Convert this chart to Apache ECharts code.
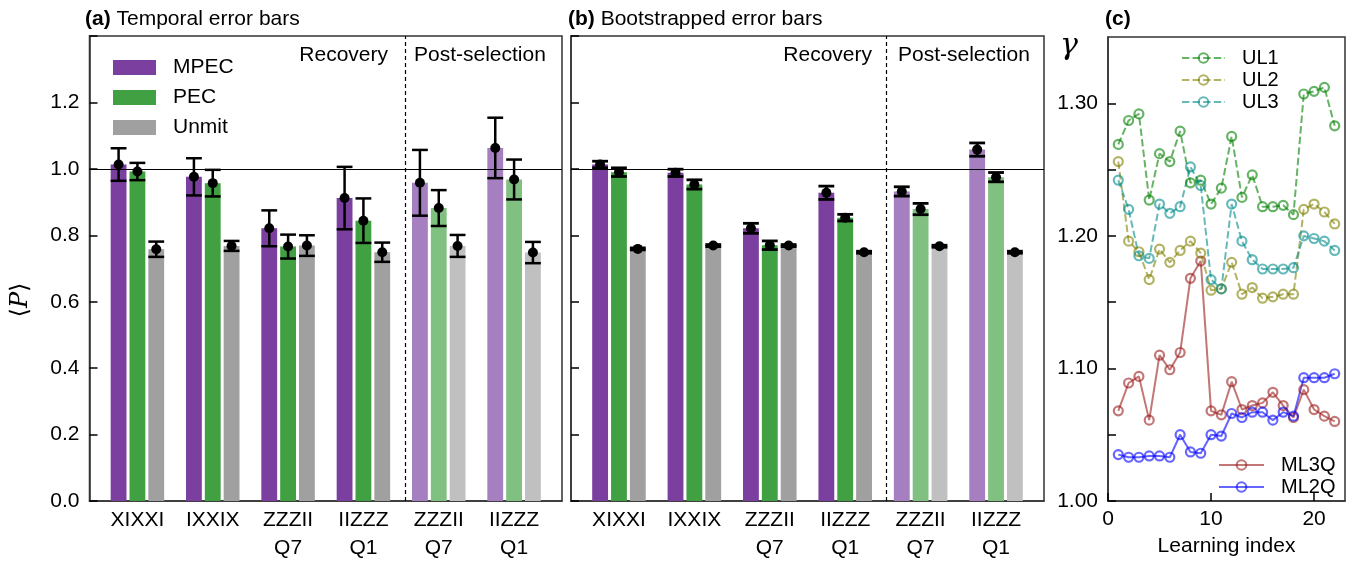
<!DOCTYPE html>
<html>
<head>
<meta charset="utf-8">
<script src="https://cdn.jsdelivr.net/npm/echarts@6/dist/echarts.min.js"></script>
<style>
  html, body { margin: 0; padding: 0; background: #fff; }
  #chart { width: 1357px; height: 562px; }
</style>
</head>
<body>
<div id="chart"></div>
<script>
// ---- data -------------------------------------------------------------
const groups = ['XIXXI', 'IXXIX', 'ZZZII\nQ7', 'IIZZZ\nQ1', 'ZZZII\nQ7', 'IIZZZ\nQ1'];
const phase = [0, 0, 0, 0, 1, 1];          // 0 = recovery, 1 = post-selection
const methods = ['MPEC', 'PEC', 'Unmit'];

// (a) temporal error bars
const tempMPEC     = [1.013, 0.976, 0.821, 0.912, 0.958, 1.063];
const tempMPECErr  = [0.049, 0.056, 0.054, 0.094, 0.099, 0.091];
const tempPEC      = [0.992, 0.957, 0.766, 0.844, 0.882, 0.968];
const tempPECErr   = [0.026, 0.040, 0.036, 0.067, 0.054, 0.060];
const tempUnmit    = [0.758, 0.768, 0.769, 0.749, 0.768, 0.748];
const tempUnmitErr = [0.023, 0.015, 0.031, 0.029, 0.033, 0.032];

// (b) bootstrapped error bars
const bootMPEC     = [1.013, 0.988, 0.821, 0.928, 0.932, 1.058];
const bootMPECErr  = [0.010, 0.011, 0.015, 0.020, 0.014, 0.020];
const bootPEC      = [0.990, 0.953, 0.770, 0.853, 0.879, 0.975];
const bootPECErr   = [0.013, 0.014, 0.013, 0.010, 0.017, 0.014];
const bootUnmit    = [0.759, 0.769, 0.769, 0.749, 0.767, 0.749];
const bootUnmitErr = [0.003, 0.003, 0.003, 0.003, 0.003, 0.003];

// (c) learned gamma per learning index
const learningIndex = [1, 2, 3, 4, 5, 6, 7, 8, 9, 10, 11, 12, 13, 14, 15, 16, 17, 18, 19, 20, 21, 22];
const ul1  = [1.269, 1.287, 1.292, 1.227, 1.262, 1.256, 1.279, 1.240, 1.242, 1.224, 1.236, 1.275, 1.229, 1.246, 1.222, 1.222, 1.223, 1.216, 1.307, 1.309, 1.312, 1.283];
const ul2  = [1.256, 1.196, 1.188, 1.167, 1.190, 1.180, 1.189, 1.196, 1.187, 1.159, 1.160, 1.180, 1.156, 1.161, 1.153, 1.154, 1.156, 1.156, 1.220, 1.224, 1.218, 1.209];
const ul3  = [1.242, 1.220, 1.185, 1.183, 1.224, 1.217, 1.222, 1.252, 1.238, 1.167, 1.160, 1.224, 1.196, 1.182, 1.175, 1.175, 1.175, 1.176, 1.200, 1.198, 1.196, 1.189];
const ml3q = [1.068, 1.089, 1.094, 1.061, 1.110, 1.099, 1.112, 1.168, 1.181, 1.068, 1.065, 1.090, 1.069, 1.072, 1.074, 1.082, 1.072, 1.063, 1.084, 1.069, 1.064, 1.060];
const ml2q = [1.035, 1.033, 1.033, 1.034, 1.034, 1.033, 1.050, 1.037, 1.036, 1.050, 1.049, 1.066, 1.063, 1.067, 1.067, 1.061, 1.067, 1.064, 1.093, 1.093, 1.093, 1.096];

// ---- styling ----------------------------------------------------------
const FONT = '"Liberation Sans", Arial, Helvetica, sans-serif';
const FRAME = '#333';
const BAR_W = 0.21;      // bar width in group units
const BAR_STEP = 0.25;   // distance between bars of one group
const SPLIT_X = 3.55;    // recovery / post-selection divider
const shades = {
  MPEC:  ['#7a3f9f', '#a57fc0'],
  PEC:   ['#41a041', '#80c080'],
  Unmit: ['#a0a0a0', '#c0c0c0']
};

function barSeries(name, k, values, axis) {
  return {
    type: 'custom', name: name, xAxisIndex: axis, yAxisIndex: axis, z: 2,
    itemStyle: { color: shades[name][0] },
    dimensions: ['x', 'y', 'phase'],
    encode: { x: 0, y: 1 },
    data: values.map((v, i) => [i, v, phase[i]]),
    renderItem: function (params, api) {
      const x = api.value(0) + (k - 1) * BAR_STEP;
      const p0 = api.coord([x - BAR_W / 2, api.value(1)]);
      const p1 = api.coord([x + BAR_W / 2, 0]);
      return {
        type: 'rect',
        shape: { x: p0[0], y: p0[1], width: p1[0] - p0[0], height: p1[1] - p0[1] },
        style: { fill: shades[name][api.value(2)] }
      };
    }
  };
}

function errorSeries(k, values, errs, axis, lw) {
  return {
    type: 'custom', xAxisIndex: axis, yAxisIndex: axis, z: 6, silent: true,
    dimensions: ['x', 'y', 'err'],
    encode: { x: 0, y: 1 },
    data: values.map((v, i) => [i, v, errs[i]]),
    renderItem: function (params, api) {
      const x = api.value(0) + (k - 1) * BAR_STEP;
      const v = api.value(1), e = api.value(2);
      const hi = api.coord([x, v + e]);
      const lo = api.coord([x, v - e]);
      const mid = api.coord([x, v]);
      const half = api.size([BAR_W, 0])[0] / 2;
      const st = { stroke: '#000', lineWidth: lw };
      return {
        type: 'group',
        children: [
          { type: 'line', shape: { x1: hi[0], y1: hi[1], x2: lo[0], y2: lo[1] }, style: st },
          { type: 'line', shape: { x1: hi[0] - half, y1: hi[1], x2: hi[0] + half, y2: hi[1] }, style: st },
          { type: 'line', shape: { x1: lo[0] - half, y1: lo[1], x2: lo[0] + half, y2: lo[1] }, style: st },
          { type: 'circle', shape: { cx: mid[0], cy: mid[1], r: 5 }, style: { fill: '#000' } }
        ]
      };
    }
  };
}

function guideSeries(axis) {
  return {
    type: 'line', xAxisIndex: axis, yAxisIndex: axis, data: [], z: 4,
    markLine: {
      silent: true, symbol: 'none', animation: false,
      label: { show: false },
      data: [
        { yAxis: 1.0, lineStyle: { type: 'solid', color: '#000', width: 1.2 } },
        { xAxis: SPLIT_X, lineStyle: { type: [4, 3], color: '#000', width: 1.2 } }
      ]
    }
  };
}

function gammaSeries(name, values, color, dashed) {
  return {
    type: 'line', name: name, xAxisIndex: 2, yAxisIndex: 2, z: 3,
    data: learningIndex.map((x, i) => [x, values[i]]),
    symbol: 'circle', symbolSize: 9,
    lineStyle: { color: color, width: 2, opacity: 0.6, type: dashed ? [7.4, 3.2] : 'solid' },
    itemStyle: { color: 'rgba(0,0,0,0)', borderColor: color, borderWidth: 2.2, opacity: 0.6 }
  };
}

const axisLineStyle = { show: true, onZero: false, lineStyle: { color: FRAME, width: 1.5 } };
const tickStyle = { show: true, inside: true, length: 8, lineStyle: { color: '#000', width: 1.5 } };
const labelStyle = { color: '#000', fontSize: 21, fontFamily: FONT };

function groupXAxis(grid) {
  const pos = groups.map((g, i) => i);
  return {
    type: 'value', gridIndex: grid, min: -0.636, max: 5.636,
    axisLine: axisLineStyle,
    axisTick: Object.assign({}, tickStyle, { customValues: pos }),
    axisLabel: Object.assign({}, labelStyle, {
      customValues: pos, margin: 5, lineHeight: 28,
      formatter: v => groups[Math.round(v)]
    }),
    splitLine: { show: false }
  };
}

function valueYAxis(grid, showLabels) {
  return {
    type: 'value', gridIndex: grid, min: 0, max: 1.4, interval: 0.2,
    axisLine: axisLineStyle, axisTick: tickStyle,
    axisLabel: Object.assign({}, labelStyle, {
      show: showLabels, margin: 10,
      formatter: v => (v > 1.3 ? '' : v.toFixed(1))
    }),
    splitLine: { show: false }
  };
}

const gridBox = { show: true, borderColor: FRAME, borderWidth: 1.5, backgroundColor: 'transparent' };

function txt(x, y, text, extra) {
  return {
    type: 'text', x: x, y: y, silent: true,
    style: Object.assign({ text: text, fill: '#000', fontSize: 21, fontFamily: FONT, verticalAlign: 'middle' }, extra || {})
  };
}

const option = {
  animation: false,
  backgroundColor: '#fff',
  grid: [
    Object.assign({ left: 89.5, top: 36, width: 472.5, height: 470 }, gridBox),
    Object.assign({ left: 571, top: 36, width: 473, height: 470 }, gridBox),
    Object.assign({ left: 1108, top: 37, width: 237, height: 470 }, gridBox)
  ],
  xAxis: [
    groupXAxis(0),
    groupXAxis(1),
    {
      type: 'value', gridIndex: 2, min: 0, max: 23,
      axisLine: axisLineStyle,
      axisTick: Object.assign({}, tickStyle, { customValues: [0, 10, 20] }),
      axisLabel: Object.assign({}, labelStyle, { customValues: [0, 10, 20], margin: 8 }),
      splitLine: { show: false },
      name: 'Learning index', nameLocation: 'middle', nameGap: 35,
      nameTextStyle: { color: '#000', fontSize: 21, fontFamily: FONT }
    }
  ],
  yAxis: [
    valueYAxis(0, true),
    valueYAxis(1, false),
    {
      type: 'value', gridIndex: 2, min: 1.0, max: 1.35,
      axisLine: axisLineStyle,
      axisTick: Object.assign({}, tickStyle, { customValues: [1.0, 1.05, 1.1, 1.15, 1.2, 1.25, 1.3] }),
      axisLabel: Object.assign({}, labelStyle, {
        customValues: [1.0, 1.1, 1.2, 1.3], margin: 10,
        formatter: v => v.toFixed(2)
      }),
      splitLine: { show: false }
    }
  ],
  legend: [
    {
      data: methods, orient: 'vertical', left: 108, top: 52,
      icon: 'rect', itemWidth: 43, itemHeight: 15, itemGap: 9,
      selectedMode: false,
      textStyle: { color: '#000', fontSize: 21, lineHeight: 21, fontFamily: FONT, padding: [0, 0, 0, 12] }
    },
    {
      data: ['UL1', 'UL2', 'UL3'], orient: 'vertical', left: 1176, top: 43,
      itemWidth: 43, itemHeight: 12, itemGap: 2, selectedMode: false,
      textStyle: { color: '#000', fontSize: 20, lineHeight: 20, fontFamily: FONT, padding: [0, 0, 0, 12] }
    },
    {
      data: ['ML3Q', 'ML2Q'], orient: 'vertical', left: 1213, top: 450,
      itemWidth: 45, itemHeight: 12, itemGap: 2, selectedMode: false,
      textStyle: { color: '#000', fontSize: 20, lineHeight: 20, fontFamily: FONT, padding: [0, 0, 0, 12] }
    }
  ],
  graphic: [
    txt(85, 19, '{b|(a)} Temporal error bars', { rich: { b: { fontWeight: 'bold', fontSize: 21, fontFamily: FONT } } }),
    txt(568, 19, '{b|(b)} Bootstrapped error bars', { rich: { b: { fontWeight: 'bold', fontSize: 21, fontFamily: FONT } } }),
    txt(1105, 19, '(c)', { fontWeight: 'bold' }),
    txt(388, 55, 'Recovery', { align: 'right' }),
    txt(414, 55, 'Post-selection', { align: 'left' }),
    txt(872, 55, 'Recovery', { align: 'right' }),
    txt(898, 55, 'Post-selection', { align: 'left' }),
    {
      type: 'text', x: 21, y: 300, rotation: Math.PI / 2, silent: true,
      style: {
        text: '{a|\u27E8}{p|P}{a|\u27E9}', align: 'center', verticalAlign: 'middle', fill: '#000',
        rich: {
          a: { fontSize: 24, fontFamily: '"DejaVu Serif", serif' },
          p: { fontSize: 24, fontFamily: '"DejaVu Serif", serif', fontStyle: 'italic' }
        }
      }
    },
    {
      type: 'text', x: 1069, y: 46, silent: true,
      style: { text: '\u03B3', align: 'center', verticalAlign: 'middle', fill: '#000',
               fontSize: 30, fontStyle: 'italic', fontFamily: '"DejaVu Serif", serif' }
    }
  ],
  series: [
    barSeries('MPEC', 0, tempMPEC, 0),
    barSeries('PEC', 1, tempPEC, 0),
    barSeries('Unmit', 2, tempUnmit, 0),
    guideSeries(0),
    errorSeries(0, tempMPEC, tempMPECErr, 0, 2.5),
    errorSeries(1, tempPEC, tempPECErr, 0, 2.5),
    errorSeries(2, tempUnmit, tempUnmitErr, 0, 2.5),

    barSeries('MPEC', 0, bootMPEC, 1),
    barSeries('PEC', 1, bootPEC, 1),
    barSeries('Unmit', 2, bootUnmit, 1),
    guideSeries(1),
    errorSeries(0, bootMPEC, bootMPECErr, 1, 2.8),
    errorSeries(1, bootPEC, bootPECErr, 1, 2.8),
    errorSeries(2, bootUnmit, bootUnmitErr, 1, 2.8),

    gammaSeries('ML3Q', ml3q, '#9a1a1a', false),
    gammaSeries('ML2Q', ml2q, '#0000ff', false),
    gammaSeries('UL1', ul1, '#008000', true),
    gammaSeries('UL2', ul2, '#808000', true),
    gammaSeries('UL3', ul3, '#008b8b', true)
  ]
};

const chart = echarts.init(document.getElementById('chart'), null, { renderer: 'canvas' });
chart.setOption(option);
</script>
</body>
</html>
